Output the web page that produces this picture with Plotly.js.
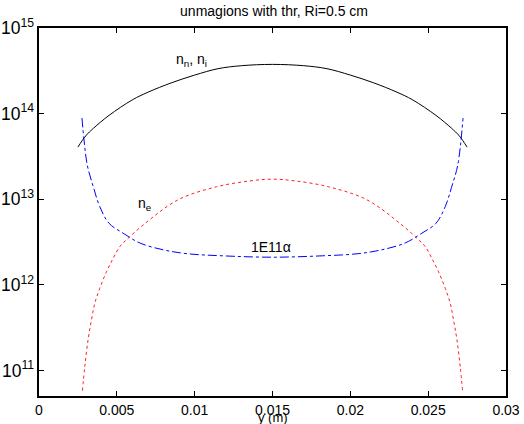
<!DOCTYPE html>
<html>
<head>
<meta charset="utf-8">
<script src="https://cdn.plot.ly/plotly-3.0.1.min.js"></script>
<style>
html,body{margin:0;padding:0;background:#fff;}
#chart{width:524px;height:424px;}
</style>
</head>
<body>
<div id="chart"></div>
<script>
// n_n, n_i (black)
const xNeutral = [0.0025, 0.0030, 0.0035, 0.0045, 0.0060, 0.0070, 0.0085, 0.0100, 0.0115, 0.0130, 0.0150,
                  0.0170, 0.0185, 0.0200, 0.0215, 0.0230, 0.0240, 0.0255, 0.0265, 0.0270, 0.0275];
const nNeutral = [4.07e13, 5.5e13, 6.76e13, 9.55e13, 1.45e14, 1.78e14, 2.29e14, 2.82e14, 3.35e14, 3.63e14, 3.76e14,
                  3.63e14, 3.35e14, 2.82e14, 2.29e14, 1.78e14, 1.45e14, 9.55e13, 6.76e13, 5.5e13, 4.07e13];

// 1E11 alpha (blue)
const xAlpha = [0.00276, 0.0029, 0.0031, 0.0035, 0.0039, 0.0045, 0.0054, 0.0065, 0.0080, 0.0095, 0.0118, 0.0150,
                0.0182, 0.0205, 0.0220, 0.0235, 0.0246, 0.0255, 0.0261, 0.0265, 0.0269, 0.02724];
const alpha = [8.89e13, 4.79e13, 2.51e13, 1.38e13, 8.24e12, 5.25e12, 4.03e12, 3.08e12, 2.57e12, 2.32e12, 2.19e12, 2.11e12,
               2.19e12, 2.32e12, 2.57e12, 3.08e12, 4.03e12, 5.25e12, 8.24e12, 1.38e13, 2.51e13, 8.89e13];

// n_e (red)
const xElec = [0.00279, 0.00294, 0.00315, 0.00337, 0.00358, 0.0039, 0.00433, 0.00476, 0.00519, 0.00562, 0.00668, 0.00893, 0.0114, 0.01354, 0.0150,
               0.01646, 0.0186, 0.02107, 0.02332, 0.02438, 0.02481, 0.02524, 0.02567, 0.0261, 0.02642, 0.02663, 0.02685, 0.02706, 0.02721];
const nElec = [5.83e10, 1.11e11, 2.28e11, 3.89e11, 6.08e11, 9.1e11, 1.42e12, 2.04e12, 2.81e12, 3.37e12, 5.0e12, 9.86e12, 1.40e13, 1.64e13, 1.72e13,
               1.64e13, 1.40e13, 9.86e12, 5.0e12, 3.37e12, 2.81e12, 2.04e12, 1.42e12, 9.1e11, 6.08e11, 3.89e11, 2.28e11, 1.11e11, 5.83e10];

const xTicks = [0, 0.005, 0.01, 0.015, 0.02, 0.025, 0.03];
const xTickText = ['0', '0.005', '0.01', '0.015', '0.02', '0.025', '0.03'];
const decades = [10, 11, 12, 13, 14];

const Y_LOG_RANGE = [10.704, 15];
const shapes = [];
// minor tick marks on the log axis (2..9 times each decade), on both sides
decades.forEach(d => {
  for (let m = 2; m <= 9; m++) {
    const ly = Math.log10(m) + d;
    if (ly < Y_LOG_RANGE[0] || ly > Y_LOG_RANGE[1]) continue;
    shapes.push({type: 'line', xref: 'paper', yref: 'y', x0: 0, x1: 0.0075, y0: ly, y1: ly, line: {color: '#000', width: 1}, layer: 'above'});
    shapes.push({type: 'line', xref: 'paper', yref: 'y', x0: 0.9925, x1: 1, y0: ly, y1: ly, line: {color: '#000', width: 1}, layer: 'above'});
  }
});

const FAM = 'Liberation Sans, Arial, Helvetica, sans-serif';
const font = {family: FAM, size: 14, color: '#000'};

const traces = [
  {x: xNeutral, y: nNeutral, mode: 'lines', line: {color: '#000', width: 1, shape: 'spline'}, hoverinfo: 'none'},
  {x: xAlpha, y: alpha, mode: 'lines', line: {color: '#0000ff', width: 1, dash: 'dashdot', shape: 'spline'}, hoverinfo: 'none'},
  {x: xElec, y: nElec, mode: 'lines', line: {color: '#ff2020', width: 1, dash: 'dot', shape: 'spline'}, hoverinfo: 'none'}
];

const layout = {
  width: 524, height: 424,
  margin: {l: 39, r: 18, t: 28, b: 28},
  paper_bgcolor: '#fff', plot_bgcolor: '#fff',
  showlegend: false,
  font: font,
  title: {text: 'unmagions with thr, Ri=0.5 cm', font: {family: FAM, size: 14, color: '#000'}, x: 0.523, xanchor: 'center', y: 0.985, yanchor: 'top'},
  xaxis: {
    range: [0, 0.03], tickvals: xTicks, ticktext: xTickText,
    ticks: 'inside', ticklen: 5, tickwidth: 1, tickcolor: '#000', mirror: 'ticks',
    showline: true, linecolor: '#000', linewidth: 2, showgrid: false, zeroline: false,
    tickfont: {family: FAM, size: 14, color: '#000'}
  },
  yaxis: {
    type: 'log', range: Y_LOG_RANGE, dtick: 1, exponentformat: 'power',
    ticks: 'inside', ticklen: 5, tickwidth: 1, tickcolor: '#000', mirror: 'ticks',
    showline: true, linecolor: '#000', linewidth: 2, showgrid: false, zeroline: false,
    tickfont: {family: FAM, size: 14, color: '#000'}
  },
  shapes: shapes,
  annotations: [
    {x: 0.0098, y: Math.log10(4.26e14), text: 'n<sub>n</sub>, n<sub>i</sub>', showarrow: false, font: font, xanchor: 'center', yanchor: 'middle'},
    {x: 0.0068, y: Math.log10(8.9e12), text: 'n<sub>e</sub>', showarrow: false, font: font, xanchor: 'center', yanchor: 'middle'},
    {x: 0.0149, y: Math.log10(2.75e12), text: '1E11α', showarrow: false, font: font, xanchor: 'center', yanchor: 'middle'},
    {xref: 'paper', yref: 'paper', x: 0.50, y: -0.058, text: 'y (m)', showarrow: false, font: {family: FAM, size: 13, color: '#000'}, xanchor: 'center', yanchor: 'middle'}
  ]
};

Plotly.newPlot('chart', traces, layout, {displayModeBar: false, staticPlot: true});
</script>
</body>
</html>
